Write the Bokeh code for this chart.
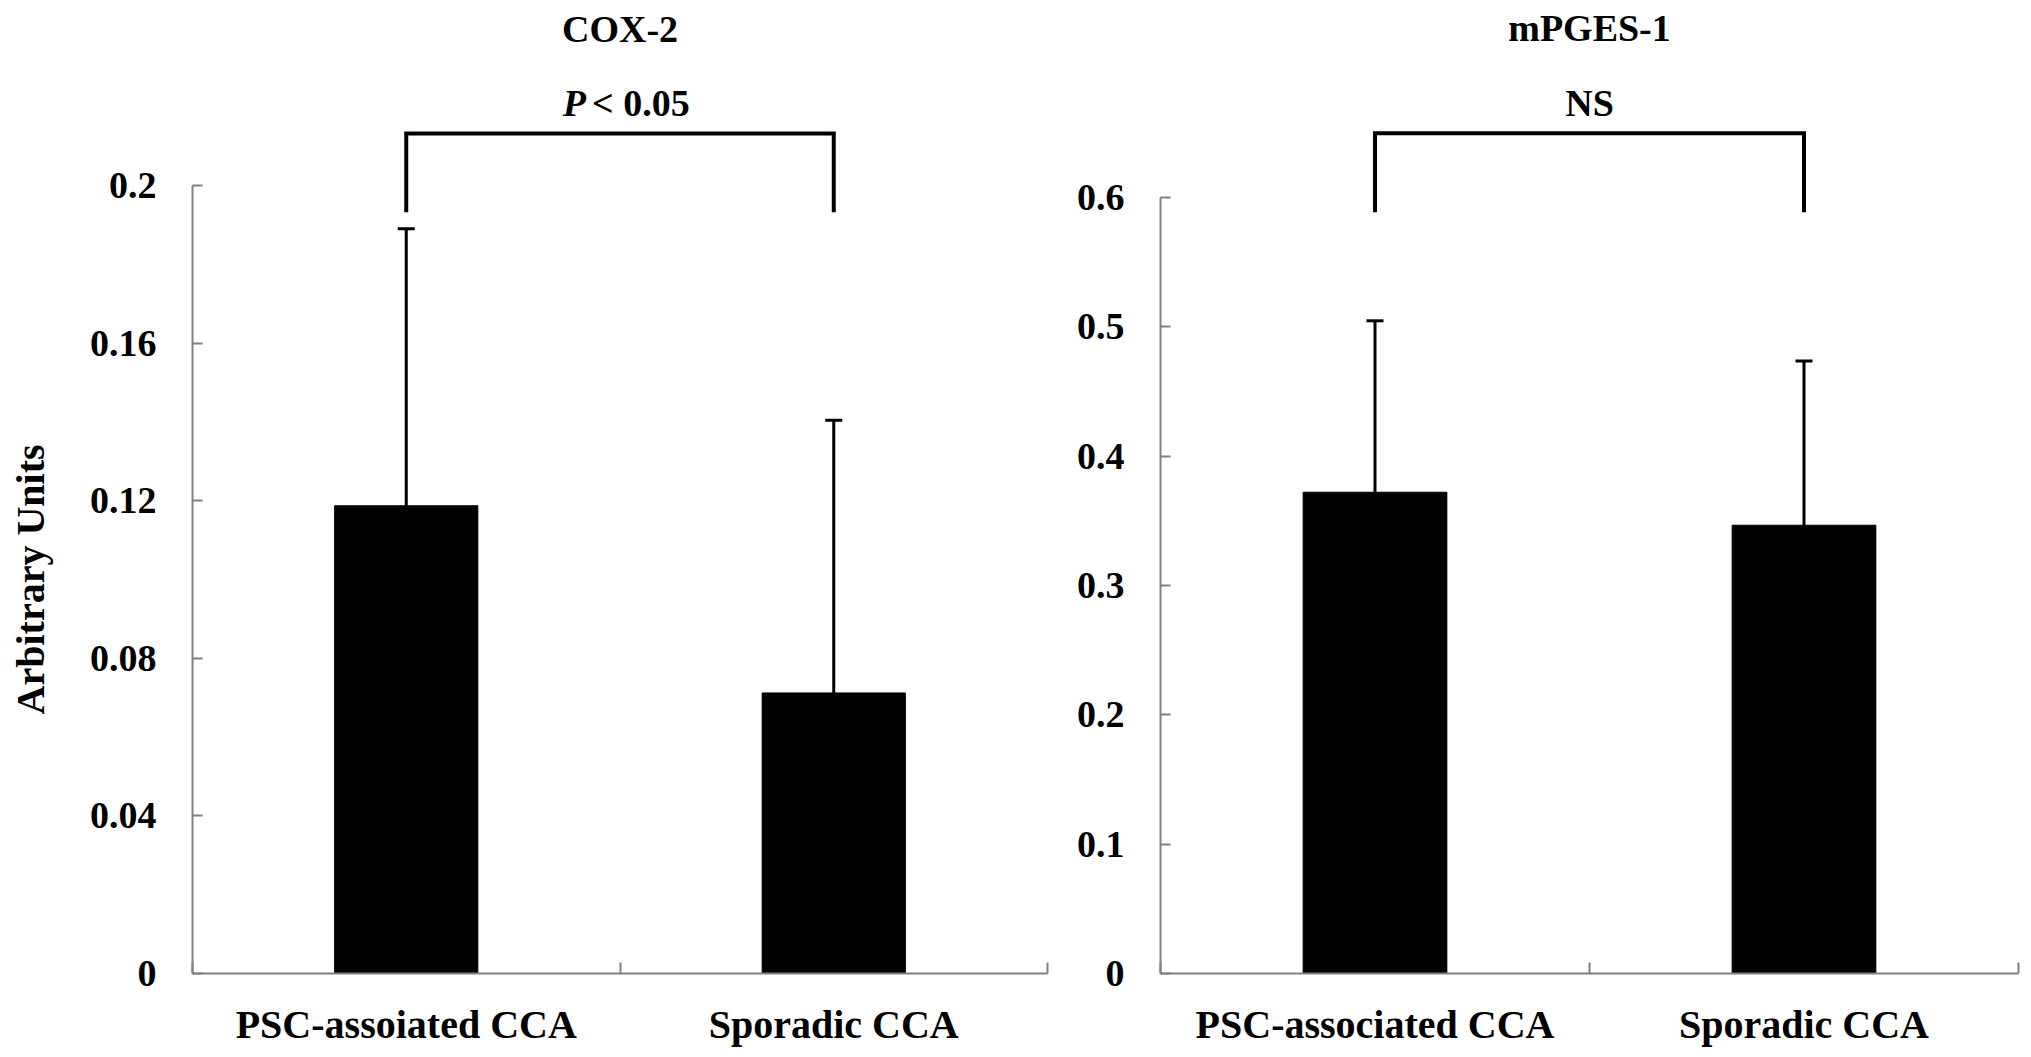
import math
from bokeh.plotting import figure, ColumnDataSource
from bokeh.models import Range1d, FixedTicker, Whisker, TeeHead, Label
from bokeh.layouts import row
from bokeh.embed import file_html
from bokeh.resources import INLINE


# ------------------------ data
cox2_groups = ["PSC-assoiated CCA", "Sporadic CCA"]
cox2_mean = [0.1187, 0.0712]
cox2_err_top = [0.1890, 0.1404]
cox2_yticks = [0, 0.04, 0.08, 0.12, 0.16, 0.2]
cox2_ylabels = ["0", "0.04", "0.08", "0.12", "0.16", "0.2"]

mpges_groups = ["PSC-associated CCA", "Sporadic CCA"]
mpges_mean = [0.372, 0.3465]
mpges_err_top = [0.5045, 0.4734]
mpges_yticks = [0, 0.1, 0.2, 0.3, 0.4, 0.5, 0.6]
mpges_ylabels = ["0", "0.1", "0.2", "0.3", "0.4", "0.5", "0.6"]

y_title = "Arbitrary Units"

# ------------------------ look
FONT = "Liberation Serif"
axis_grey = "#808080"
txt = "#000000"
H = 1049


def bar_panel(title, sig_text, groups, mean, err_top, yticks, ylabels,
              y_end, bracket_lo, bracket_hi, title_y, sig_y,
              width, border_left, border_right):
    ############################################################
    xs = [i + 0.5 for i in range(len(groups))]
    src = ColumnDataSource(data=dict(x=xs, mean=mean, top=err_top))
    # ------------------------
    p = figure(width=width, height=H, title=None, toolbar_location=None,
               output_backend="svg", tools="")
    p.min_border_left = border_left
    p.min_border_right = border_right
    p.min_border_top = 8
    p.min_border_bottom = 75
    p.x_range = Range1d(0, len(groups))
    p.y_range = Range1d(0, y_end)
    p.outline_line_color = None
    p.grid.visible = False
    p.background_fill_color = "white"
    p.border_fill_color = "white"
    # ------------------------
    p.vbar(x="x", top="mean", bottom=0, width=0.335, source=src,
           fill_color="black", line_color="black")
    wh = Whisker(base="x", upper="top", lower="mean", source=src,
                 dimension="height", line_width=3, line_color="black",
                 upper_head=TeeHead(size=17, line_width=3, line_color="black"),
                 lower_head=None, level="overlay")
    p.add_layout(wh)
    # significance bracket between the two bars
    p.line([xs[0], xs[0], xs[1], xs[1]],
           [bracket_lo, bracket_hi, bracket_hi, bracket_lo],
           line_width=4, line_color="black", line_join="miter")
    mid = (xs[0] + xs[1]) / 2
    p.add_layout(Label(x=mid, y=title_y, text=title, text_align="center",
                       text_baseline="middle", text_font=FONT,
                       text_font_style="bold", text_font_size="38px",
                       text_color=txt))
    if sig_text == "P":
        p.add_layout(Label(x=mid, y=sig_y, text="P", x_offset=-34,
                           text_align="right", text_baseline="middle",
                           text_font=FONT, text_font_style="bold italic",
                           text_font_size="38px", text_color=txt))
        p.add_layout(Label(x=mid, y=sig_y, text="< 0.05", x_offset=-28,
                           text_align="left", text_baseline="middle",
                           text_font=FONT, text_font_style="bold",
                           text_font_size="38px", text_color=txt))
    else:
        p.add_layout(Label(x=mid, y=sig_y, text=sig_text, text_align="center",
                           text_baseline="middle", text_font=FONT,
                           text_font_style="bold", text_font_size="38px",
                           text_color=txt))
    # ------------------------ x axis: names under bars, small ticks at borders
    p.xaxis.ticker = FixedTicker(ticks=xs, minor_ticks=list(range(len(groups) + 1)))
    p.xaxis.major_label_overrides = {x: g for x, g in zip(xs, groups)}
    p.xaxis.major_tick_line_color = None
    p.xaxis.minor_tick_in = 11
    p.xaxis.minor_tick_out = 0
    p.xaxis.minor_tick_line_color = axis_grey
    p.xaxis.minor_tick_line_width = 2
    p.xaxis.major_label_standoff = 22
    # ------------------------ y axis (ticks point inwards)
    p.yaxis.ticker = FixedTicker(ticks=yticks)
    p.yaxis.major_label_overrides = {t: l for t, l in zip(yticks, ylabels)}
    p.yaxis.bounds = (yticks[0], yticks[-1])
    p.yaxis.major_tick_in = 10
    p.yaxis.major_tick_out = 0
    p.yaxis.major_tick_line_color = axis_grey
    p.yaxis.major_tick_line_width = 2
    p.yaxis.minor_tick_line_color = None
    p.yaxis.major_label_standoff = 36
    # ------------------------
    p.axis.axis_line_color = axis_grey
    p.axis.axis_line_width = 2
    p.axis.major_label_text_font = FONT
    p.axis.major_label_text_font_style = "bold"
    p.axis.major_label_text_color = txt
    p.yaxis.major_label_text_font_size = "38px"
    p.xaxis.major_label_text_font_size = "40px"
    ############################################################
    return p


p1 = bar_panel("COX-2", "P", cox2_groups, cox2_mean, cox2_err_top,
               cox2_yticks, cox2_ylabels,
               y_end=0.2449, bracket_lo=0.1932, bracket_hi=0.2132,
               title_y=0.2398, sig_y=0.2208,
               width=1008, border_left=132, border_right=21)
p2 = bar_panel("mPGES-1", "NS", mpges_groups, mpges_mean, mpges_err_top,
               mpges_yticks, mpges_ylabels,
               y_end=0.7459, bracket_lo=0.5884, bracket_hi=0.6494,
               title_y=0.7305, sig_y=0.6726,
               width=955, border_left=92, border_right=5)

# ------------------------ narrow strip holding the shared y title,
# centred on the 0..0.2 axis span of the COX-2 panel
p0 = figure(width=60, height=H, title=None, toolbar_location=None,
            output_backend="svg", tools="",
            x_axis_location=None, y_axis_location=None)
p0.min_border_left = 0
p0.min_border_right = 0
p0.min_border_top = 8
p0.min_border_bottom = 75
p0.x_range = Range1d(0, 1)
p0.y_range = p1.y_range
p0.outline_line_color = None
p0.grid.visible = False
p0.add_layout(Label(x=0.5, y=(cox2_yticks[0] + cox2_yticks[-1]) / 2, text=y_title,
                    angle=math.pi / 2, text_align="center",
                    text_baseline="middle", text_font=FONT,
                    text_font_style="bold", text_font_size="40px",
                    text_color=txt))

layout = row(p0, p1, p2)
open("out.html", "w").write(file_html(layout, INLINE))
